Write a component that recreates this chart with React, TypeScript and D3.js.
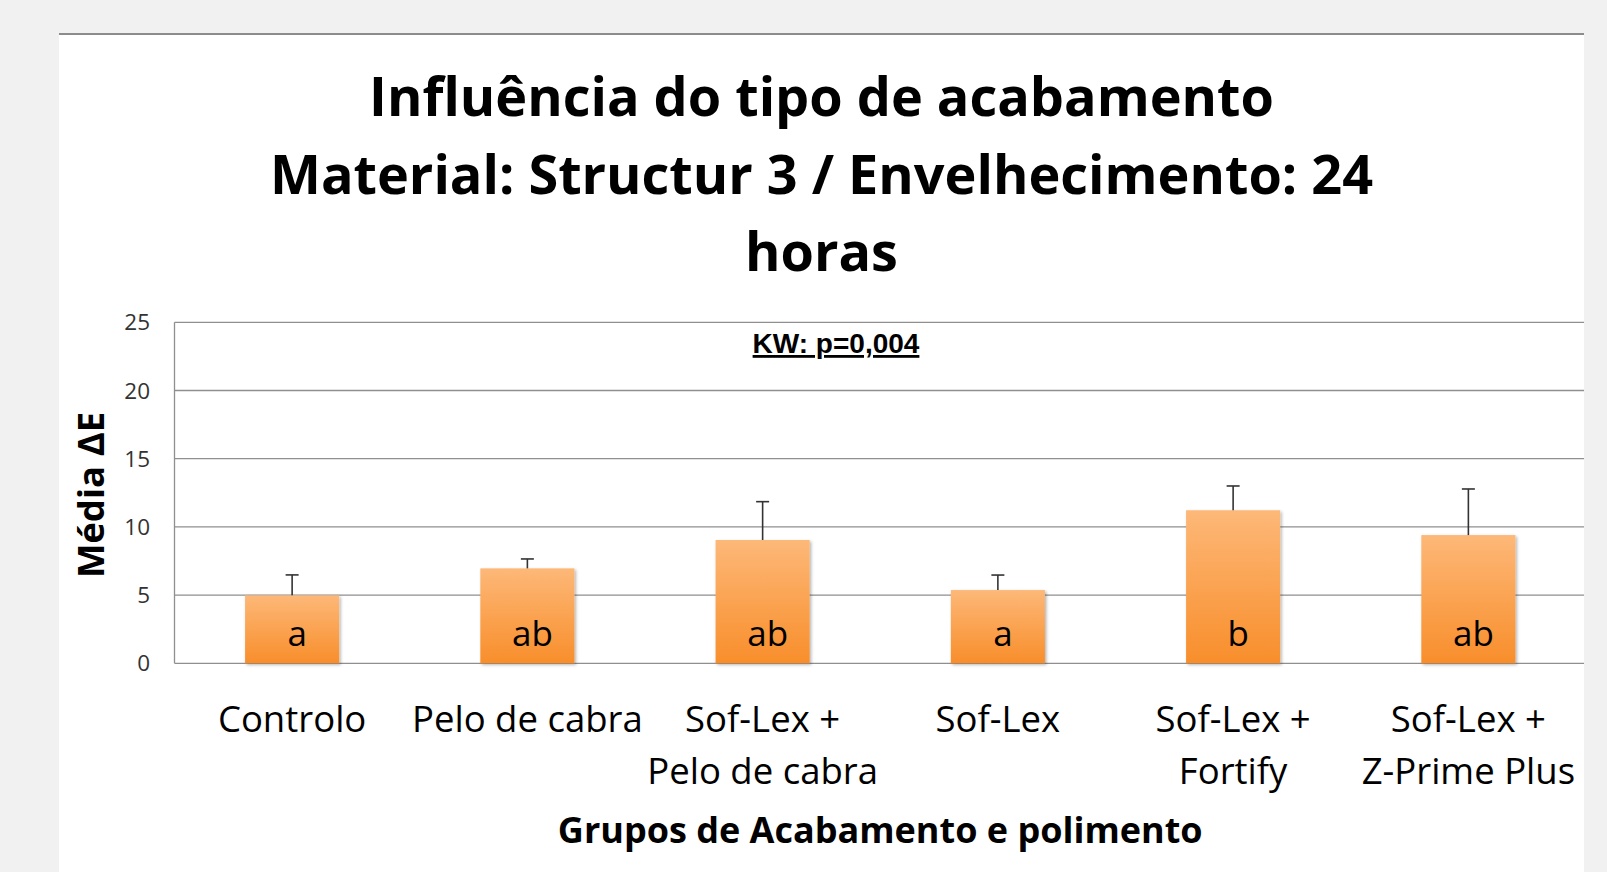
import React from "react";
import * as d3 from "d3";

const categories: string[][] = [
  ["Controlo"],
  ["Pelo de cabra"],
  ["Sof-Lex +", "Pelo de cabra"],
  ["Sof-Lex"],
  ["Sof-Lex +", "Fortify"],
  ["Sof-Lex +", "Z-Prime Plus"],
];
const means: number[] = [4.98, 6.96, 9.04, 5.37, 11.22, 9.4];
const sds: number[] = [1.5, 0.69, 2.81, 1.1, 1.78, 3.38];
const letters: string[] = ["a", "ab", "ab", "a", "b", "ab"];
const yTicks: number[] = [0, 5, 10, 15, 20, 25];
const titleLines: string[] = [
  "Influência do tipo de acabamento",
  "Material: Structur 3 / Envelhecimento: 24",
  "horas",
];
const statText = "KW: p=0,004";
const yTitle = "Média ΔE";
const xTitle = "Grupos de Acabamento e polimento";

const W = 1607;
const H = 872;
const FONT = "'Open Sans', sans-serif";

export default function App() {
  const x = d3
    .scaleBand<number>()
    .domain(categories.map((_, i) => i))
    .range([174.5, 1586])
    .padding(0);
  const y = d3.scaleLinear().domain([0, 25]).range([663.3, 322.3]);
  const bw = x.bandwidth() * 0.4;
  const gridRight = 1584;
  const panelCx = (59 + 1584) / 2;
  const plotCx = (174.5 + 1586) / 2;

  return (
    <svg
      width={W}
      height={H}
      style={{ position: "absolute", left: 0, top: 0, display: "block" }}
    >
      <defs>
        <linearGradient id="barGrad" x1="0" y1="0" x2="0" y2="1">
          <stop offset="0%" stopColor="#FDB878" />
          <stop offset="100%" stopColor="#F88E2B" />
        </linearGradient>
        <filter id="shadow" x="-20%" y="-20%" width="140%" height="140%">
          <feDropShadow dx="1.5" dy="1.5" stdDeviation="1.5" floodColor="#000" floodOpacity="0.3" />
        </filter>
        <clipPath id="panelClip">
          <rect x={59} y={0} width={1584 - 59} height={H} />
        </clipPath>
      </defs>
      <rect x={0} y={0} width={W} height={H} fill="#f1f1f1" />
      <rect x={59} y={34} width={1584 - 59} height={H - 34} fill="#ffffff" />
      <rect x={59} y={33} width={1584 - 59} height={2} fill="#8c8c8c" />

      {/* title */}
      <text
        fontFamily={FONT}
        fontWeight={700}
        fontSize={54}
        textAnchor="middle"
        fill="#000"
      >
        {titleLines.map((t, i) => (
          <tspan key={i} x={panelCx} y={116 + i * 77.5}>
            {t}
          </tspan>
        ))}
      </text>

      <g clipPath="url(#panelClip)">
        {/* gridlines */}
        {yTicks.map((t) => (
          <line
            key={t}
            x1={174.5}
            x2={gridRight}
            y1={y(t)}
            y2={y(t)}
            stroke="#8f8f8f"
            strokeWidth={1.3}
          />
        ))}
        <line x1={174.5} x2={174.5} y1={y(25)} y2={y(0)} stroke="#8f8f8f" strokeWidth={1.3} />

        {/* bars */}
        {means.map((m, i) => {
          const cx = (x(i) as number) + x.bandwidth() / 2;
          return (
            <rect
              key={i}
              x={cx - bw / 2}
              y={y(m)}
              width={bw}
              height={y(0) - y(m)}
              fill="url(#barGrad)"
              filter="url(#shadow)"
            />
          );
        })}

        {/* error bars */}
        {means.map((m, i) => {
          const cx = (x(i) as number) + x.bandwidth() / 2;
          const top = y(m + sds[i]);
          return (
            <g key={i} stroke="#333" strokeWidth={1.6}>
              <line x1={cx} x2={cx} y1={y(m)} y2={top} />
              <line x1={cx - 6.5} x2={cx + 6.5} y1={top} y2={top} />
            </g>
          );
        })}

        {/* letters */}
        {letters.map((l, i) => {
          const cx = (x(i) as number) + x.bandwidth() / 2;
          return (
            <text
              key={i}
              x={cx + 5}
              y={y(0) - 17}
              fontFamily={FONT}
              fontSize={35}
              textAnchor="middle"
              fill="#000"
            >
              {l}
            </text>
          );
        })}

        {/* x labels */}
        {categories.map((lines, i) => {
          const cx = (x(i) as number) + x.bandwidth() / 2;
          return (
            <text
              key={i}
              fontFamily={FONT}
              fontSize={36.5}
              textAnchor="middle"
              fill="#000"
            >
              {lines.map((ln, j) => (
                <tspan key={j} x={cx} y={732 + j * 52}>
                  {ln}
                </tspan>
              ))}
            </text>
          );
        })}
      </g>

      {/* y ticks */}
      {yTicks.map((t) => (
        <text
          key={t}
          x={150}
          y={y(t)}
          dy="0.36em"
          fontFamily={FONT}
          fontSize={22.5}
          textAnchor="end"
          fill="#333"
        >
          {t}
        </text>
      ))}

      {/* stat text */}
      <text
        x={836}
        y={353}
        fontFamily="'Liberation Sans', Arial, sans-serif"
        fontWeight={700}
        fontSize={28}
        textAnchor="middle"
        fill="#000"
        style={{ textDecoration: "underline" }}
      >
        {statText}
      </text>

      {/* y title */}
      <text
        transform={`translate(104, 495) rotate(-90)`}
        fontFamily={FONT}
        fontWeight={700}
        fontSize={36.5}
        textAnchor="middle"
        fill="#000"
      >
        {yTitle}
      </text>

      {/* x title */}
      <text
        x={plotCx}
        y={843}
        fontFamily={FONT}
        fontWeight={700}
        fontSize={36}
        textAnchor="middle"
        fill="#000"
      >
        {xTitle}
      </text>
    </svg>
  );
}
